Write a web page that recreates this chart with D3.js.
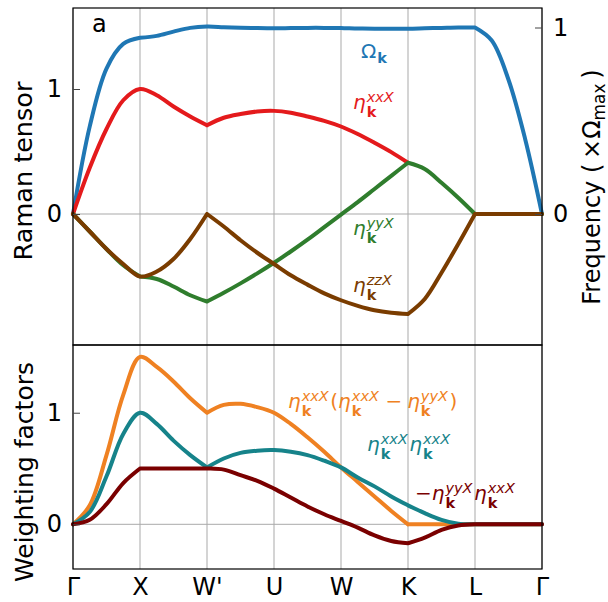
<!DOCTYPE html>
<html>
<head>
<meta charset="utf-8">
<script src="https://cdn.jsdelivr.net/npm/d3@7"></script>
<style>
  body { margin: 0; background: #fff; }
  text { font-family: "DejaVu Sans", sans-serif; }
</style>
</head>
<body>
<script>
    // path points and sampling along the path (segment units)
    var points = ['Γ', 'X', "W'", 'U', 'W', 'K', 'L', 'Γ'];
    var samples = [0, 0.25, 0.5, 0.75, 1, 1.25, 1.5, 1.75, 2, 2.25, 2.5, 2.75, 3, 3.25, 3.5, 3.75,
                   4, 4.25, 4.5, 4.75, 5, 5.25, 5.5, 5.75, 6, 6.25, 6.5, 6.75, 7];

    // top panel (Raman tensor, frequency on right axis)
    var omega = [0, 0.47, 0.78, 0.912, 0.945, 0.955, 0.978, 0.998, 1.005, 1.002, 0.999, 0.997, 0.996, 0.997, 0.998, 0.998,
                 0.997, 0.995, 0.994, 0.994, 0.994, 0.996, 0.998, 1.0, 1.0, 0.93, 0.72, 0.40, 0];
    var etaXX = [0, 0.37, 0.68, 0.91, 1.0, 0.95, 0.86, 0.78, 0.71, 0.77, 0.80, 0.82, 0.825, 0.81, 0.78, 0.745,
                 0.70, 0.64, 0.57, 0.495, 0.41, null, null, null, null, null, null, null, null];
    var etaYY = [0, -0.14, -0.28, -0.41, -0.50, -0.52, -0.58, -0.65, -0.70, -0.63, -0.555, -0.475, -0.39, -0.30, -0.205, -0.105,
                 -0.005, 0.095, 0.20, 0.305, 0.41, 0.36, 0.25, 0.13, 0, 0, 0, 0, 0];
    var etaZZ = [0, -0.14, -0.28, -0.40, -0.50, -0.46, -0.36, -0.20, 0, -0.10, -0.21, -0.31, -0.40, -0.49, -0.565, -0.635,
                 -0.69, -0.735, -0.77, -0.79, -0.80, -0.68, -0.47, -0.24, 0, 0, 0, 0, 0];

    // bottom panel (weighting factors)
    var wOrange = [0, 0.17, 0.62, 1.16, 1.50, 1.41, 1.28, 1.13, 1.0, 1.07, 1.08, 1.05, 1.0, 0.90, 0.78, 0.65,
                   0.51, 0.38, 0.25, 0.12, 0, 0, 0, 0, 0, 0, 0, 0, 0];
    var wTeal = [0, 0.11, 0.43, 0.81, 1.0, 0.90, 0.75, 0.62, 0.51, 0.59, 0.64, 0.66, 0.665, 0.65, 0.62, 0.57,
                 0.51, 0.42, 0.34, 0.25, 0.17, 0.10, 0.04, 0.005, 0, 0, 0, 0, 0];
    var wDark = [0, 0.04, 0.18, 0.37, 0.50, 0.50, 0.50, 0.50, 0.50, 0.49, 0.44, 0.39, 0.32, 0.24, 0.16, 0.09,
                 0.03, -0.03, -0.10, -0.15, -0.17, -0.12, -0.05, -0.01, 0, 0, 0, 0, 0];

    var topTicks = [0, 1], freqTicks = [0, 1], botTicks = [0, 1];

    var width = 608, height = 602,
        left = 73, right = 542,
        topY = 8, midY = 345, botY = 569;

    var svg = d3.select('body').append('svg')
        .attr('width', width)
        .attr('height', height);

    var x = d3.scaleLinear().domain([0, 7]).range([left, right]);
    var yTop = d3.scaleLinear().domain([-1.048, 1.648]).range([midY, topY]);
    var yFreq = d3.scaleLinear().domain([-0.7024, 1.1046]).range([midY, topY]);
    var yBot = d3.scaleLinear().domain([-0.4005, 1.607]).range([botY, midY]);

    // grid
    var grid = svg.append('g').attr('stroke', '#a9a9a9').attr('stroke-width', 1);
    points.forEach(function(p, i) {
        grid.append('line').attr('x1', x(i)).attr('x2', x(i)).attr('y1', topY).attr('y2', botY);
    });
    grid.append('line').attr('x1', left).attr('x2', right).attr('y1', yTop(0)).attr('y2', yTop(0));
    grid.append('line').attr('x1', left).attr('x2', right).attr('y1', yBot(0)).attr('y2', yBot(0));

    function pieces(vals, kinks) {
        var pts = samples.map(function(k, i) { return {k: k, v: vals[i], i: i}; })
            .filter(function(p) { return p.v !== null; });
        var cuts = [0].concat(kinks).concat([samples.length - 1]);
        var out = [];
        for (var j = 0; j < cuts.length - 1; j++) {
            var seg = pts.filter(function(p) { return p.i >= cuts[j] && p.i <= cuts[j + 1]; });
            if (seg.length > 1) out.push(seg);
        }
        return out;
    }

    function drawCurve(vals, kinks, yScale, color) {
        var line = d3.line()
            .x(function(p) { return x(p.k); })
            .y(function(p) { return yScale(p.v); })
            .curve(d3.curveCatmullRom.alpha(0.5));
        svg.append('path')
            .attr('d', pieces(vals, kinks).map(line).join(''))
            .attr('fill', 'none')
            .attr('stroke', color)
            .attr('stroke-width', 4)
            .attr('stroke-linecap', 'round')
            .attr('stroke-linejoin', 'round');
    }

    var colors = {
        blue: '#1f77b4', red: '#e41a1c', green: '#2f7d2d', brown: '#7a3c00',
        orange: '#ef8122', teal: '#16838a', dark: '#7a0000'
    };

    drawCurve(omega, [4, 24], yFreq, colors.blue);
    drawCurve(etaXX, [8], yTop, colors.red);
    drawCurve(etaYY, [4, 8, 20, 24], yTop, colors.green);
    drawCurve(etaZZ, [8, 20, 24], yTop, colors.brown);

    drawCurve(wOrange, [8, 20], yBot, colors.orange);
    drawCurve(wTeal, [8, 20], yBot, colors.teal);
    drawCurve(wDark, [4, 20, 24], yBot, colors.dark);

    // frames
    svg.append('rect').attr('x', left).attr('y', topY).attr('width', right - left).attr('height', midY - topY)
        .attr('fill', 'none').attr('stroke', '#000').attr('stroke-width', 1.2);
    svg.append('rect').attr('x', left).attr('y', midY).attr('width', right - left).attr('height', botY - midY)
        .attr('fill', 'none').attr('stroke', '#000').attr('stroke-width', 1.2);

    // axes
    function styleAxis(g) {
        g.select('.domain').remove();
        g.selectAll('.tick line').attr('stroke', '#444');
        g.selectAll('.tick text').attr('font-size', 24).attr('font-family', 'DejaVu Sans').attr('fill', '#000');
    }
    svg.append('g').attr('transform', 'translate(' + left + ',0)')
        .call(d3.axisLeft(yTop).tickValues(topTicks).tickSize(-7).tickPadding(11).tickFormat(d3.format('d')))
        .call(styleAxis);
    svg.append('g').attr('transform', 'translate(' + right + ',0)')
        .call(d3.axisRight(yFreq).tickValues(freqTicks).tickSize(-7).tickPadding(11).tickFormat(d3.format('d')))
        .call(styleAxis);
    svg.append('g').attr('transform', 'translate(' + left + ',0)')
        .call(d3.axisLeft(yBot).tickValues(botTicks).tickSize(-7).tickPadding(11).tickFormat(d3.format('d')))
        .call(styleAxis);
    svg.append('g').attr('transform', 'translate(0,' + botY + ')')
        .call(d3.axisBottom(x).tickValues(d3.range(points.length)).tickSize(0).tickPadding(9)
            .tickFormat(function(i) { return points[i]; }))
        .call(styleAxis);

    // axis titles
    svg.append('text').attr('transform', 'translate(32,171) rotate(-90)')
        .attr('text-anchor', 'middle').attr('font-size', 25.5).text('Raman tensor');
    svg.append('text').attr('transform', 'translate(33,472) rotate(-90)')
        .attr('text-anchor', 'middle').attr('font-size', 25).text('Weighting factors');
    var ft = svg.append('text').attr('transform', 'translate(600,187) rotate(-90)')
        .attr('text-anchor', 'middle').attr('font-size', 24);
    ft.append('tspan').text('Frequency (\u2009×Ω');
    ft.append('tspan').attr('font-size', 17).attr('dy', 5).text('max');
    ft.append('tspan').attr('dy', -5).text('\u2009)');

    svg.append('text').attr('x', 92).attr('y', 32).attr('font-size', 24).text('a');

    // math labels: eta with stacked superscript / bold k subscript
    function mathLabel(x0, y0, tokens, color) {
        var g = svg.append('g').attr('fill', color);
        var cx = x0;
        tokens.forEach(function(tok) {
            if (tok.sym) {
                var t = g.append('text').attr('x', cx).attr('y', y0).attr('font-size', 20)
                    .attr('font-style', tok.sym === 'η' ? 'italic' : 'normal').text(tok.sym);
                cx += t.node().getComputedTextLength() + 1;
                var sw = 0;
                if (tok.sup) {
                    var s = g.append('text').attr('x', cx).attr('y', y0 - 7).attr('font-size', 14.5)
                        .attr('font-style', 'italic').text(tok.sup);
                    sw = s.node().getComputedTextLength();
                }
                var b = g.append('text').attr('x', cx).attr('y', y0 + (tok.sup ? 8 : 5)).attr('font-size', 14.5)
                    .attr('font-weight', 'bold').text('k');
                cx += Math.max(sw, b.node().getComputedTextLength()) + 1.5;
            } else {
                var pad = tok.op ? 5 : 0;
                var p = g.append('text').attr('x', cx + pad).attr('y', y0).attr('font-size', 20).text(tok.txt);
                cx += p.node().getComputedTextLength() + 2 * pad;
            }
        });
    }

    mathLabel(361, 58, [{sym: 'Ω'}], colors.blue);
    mathLabel(353, 109, [{sym: 'η', sup: 'xxX'}], colors.red);
    mathLabel(353, 235, [{sym: 'η', sup: 'yyX'}], colors.green);
    mathLabel(353, 292, [{sym: 'η', sup: 'zzX'}], colors.brown);

    mathLabel(288, 408, [{sym: 'η', sup: 'xxX'}, {txt: '('}, {sym: 'η', sup: 'xxX'}, {txt: '−', op: true},
                         {sym: 'η', sup: 'yyX'}, {txt: ')'}], colors.orange);
    mathLabel(367, 451, [{sym: 'η', sup: 'xxX'}, {sym: 'η', sup: 'xxX'}], colors.teal);
    mathLabel(415, 500, [{txt: '−'}, {sym: 'η', sup: 'yyX'}, {sym: 'η', sup: 'xxX'}], colors.dark);
</script>
</body>
</html>
